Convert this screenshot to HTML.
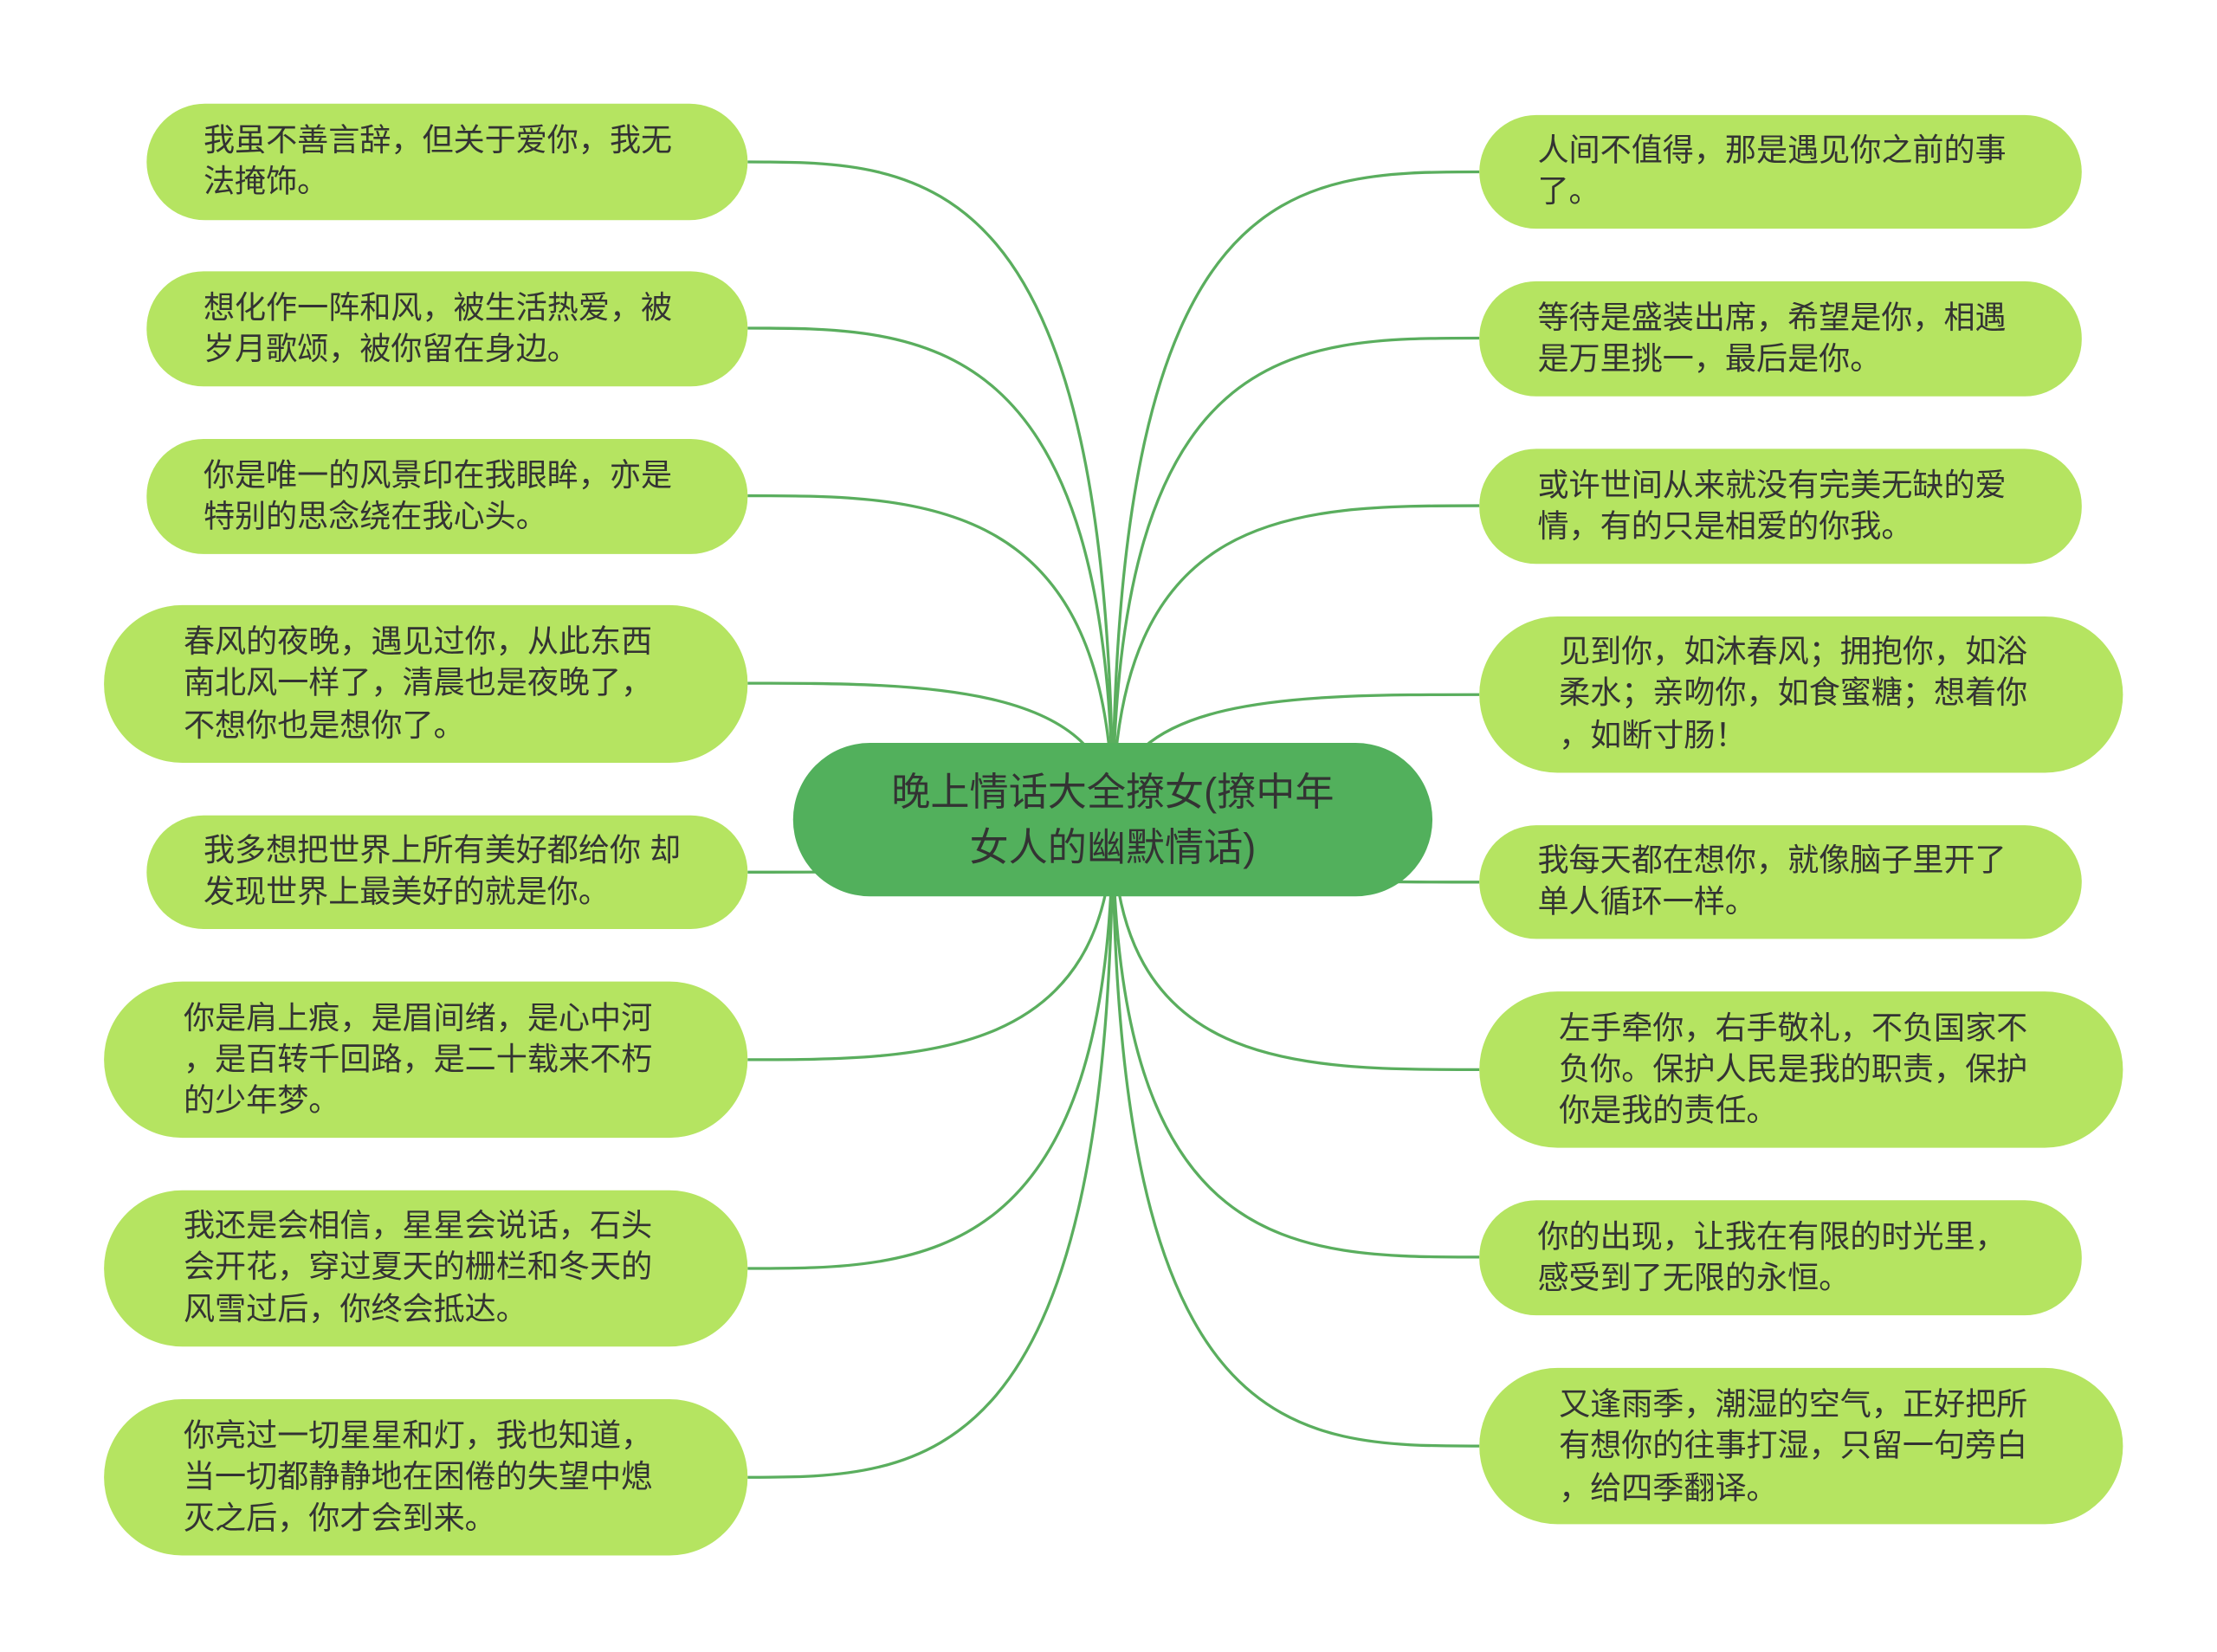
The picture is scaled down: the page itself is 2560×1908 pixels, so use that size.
<!DOCTYPE html>
<html><head><meta charset="utf-8"><style>
html,body{margin:0;padding:0;background:#fff;}
svg{display:block;}
text{font-family:"Liberation Sans","Noto Sans CJK SC",sans-serif;fill:#333;}
</style></head><body>
<svg width="2560" height="1908" viewBox="0 0 1560 1163" xmlns="http://www.w3.org/2000/svg">
<g fill="none" stroke="#5aae5e" stroke-width="2">
<path d="M783 577 C783 114,650 114,526 114"/>
<path d="M783 577 C783 231,650 231,526 231"/>
<path d="M783 577 C783 349,650 349,526 349"/>
<path d="M783 577 C783 481,650 481,526 481"/>
<path d="M783 577 C783 614,650 614,526 614"/>
<path d="M783 577 C783 746,650 746,526 746"/>
<path d="M783 577 C783 893,650 893,526 893"/>
<path d="M783 577 C783 1040,650 1040,526 1040"/>
<path d="M783 577 C783 121,910 121,1041 121"/>
<path d="M783 577 C783 238,910 238,1041 238"/>
<path d="M783 577 C783 356,910 356,1041 356"/>
<path d="M783 577 C783 489,910 489,1041 489"/>
<path d="M783 577 C783 621,910 621,1041 621"/>
<path d="M783 577 C783 753,910 753,1041 753"/>
<path d="M783 577 C783 885,910 885,1041 885"/>
<path d="M783 577 C783 1018,910 1018,1041 1018"/>
</g>
<g fill="#b5e461">
<rect x="103" y="73" width="423" height="82" rx="41"/>
<rect x="103" y="191" width="423" height="81" rx="40"/>
<rect x="103" y="309" width="423" height="81" rx="40"/>
<rect x="73" y="426" width="453" height="111" rx="55"/>
<rect x="103" y="574" width="423" height="80" rx="40"/>
<rect x="73" y="691" width="453" height="110" rx="55"/>
<rect x="73" y="838" width="453" height="110" rx="55"/>
<rect x="73" y="985" width="453" height="110" rx="55"/>
<rect x="1041" y="81" width="424" height="80" rx="40"/>
<rect x="1041" y="198" width="424" height="81" rx="40"/>
<rect x="1041" y="316" width="424" height="81" rx="40"/>
<rect x="1041" y="434" width="453" height="110" rx="55"/>
<rect x="1041" y="581" width="424" height="80" rx="40"/>
<rect x="1041" y="698" width="453" height="110" rx="55"/>
<rect x="1041" y="845" width="424" height="81" rx="40"/>
<rect x="1041" y="963" width="453" height="110" rx="55"/>
</g>
<rect x="558" y="523" width="450" height="108" rx="54" fill="#52b05c"/>
<text x="783" y="567" font-size="27.5" text-anchor="middle">晚上情话大全撩女(撩中年</text>
<text x="783" y="606" font-size="27.5" text-anchor="middle">女人的幽默情话)</text>
<g font-size="22">
<text x="143" y="106">我虽不善言辞，但关于爱你，我无</text>
<text x="143" y="135">法掩饰。</text>
<text x="143" y="224">想化作一阵和风，被生活热爱，被</text>
<text x="143" y="253">岁月歌颂，被你留在身边。</text>
<text x="143" y="342">你是唯一的风景印在我眼眸，亦是</text>
<text x="143" y="371">特别的思念绕在我心头。</text>
<text x="129" y="459">春风的夜晚，遇见过你，从此东西</text>
<text x="129" y="488">南北风一样了，清晨也是夜晚了，</text>
<text x="129" y="518">不想你也是想你了。</text>
<text x="143" y="606">我多想把世界上所有美好都给你 却</text>
<text x="143" y="635">发现世界上最美好的就是你。</text>
<text x="129" y="724">你是肩上痕，是眉间绪，是心中河</text>
<text x="129" y="753">，是百转千回路，是二十载来不朽</text>
<text x="129" y="782">的少年梦。</text>
<text x="129" y="870">我还是会相信，星星会说话，石头</text>
<text x="129" y="899">会开花，穿过夏天的栅栏和冬天的</text>
<text x="129" y="929">风雪过后，你终会抵达。</text>
<text x="129" y="1018">你亮过一切星星和灯，我也知道，</text>
<text x="129" y="1047">当一切都静静地在困倦的失望中熄</text>
<text x="129" y="1076">灭之后，你才会到来。</text>
<text x="1082" y="113">人间不值得，那是遇见你之前的事</text>
<text x="1082" y="142">了。</text>
<text x="1082" y="231">等待是盛装出席，希望是你，相遇</text>
<text x="1082" y="260">是万里挑一，最后是你。</text>
<text x="1082" y="349">或许世间从来就没有完美无缺的爱</text>
<text x="1082" y="378">情，有的只是相爱的你我。</text>
<text x="1097" y="466">见到你，如沐春风；拥抱你，如浴</text>
<text x="1097" y="495">柔水；亲吻你，如食蜜糖；想着你</text>
<text x="1097" y="525">，如断寸肠！</text>
<text x="1082" y="613">我每天都在想你，就像脑子里开了</text>
<text x="1082" y="642">单人循环一样。</text>
<text x="1097" y="731">左手牵你，右手敬礼，不负国家不</text>
<text x="1097" y="760">负你。保护人民是我的职责，保护</text>
<text x="1097" y="789">你是我的责任。</text>
<text x="1082" y="878">你的出现，让我在有限的时光里，</text>
<text x="1082" y="907">感受到了无限的永恒。</text>
<text x="1097" y="996">又逢雨季，潮湿的空气，正好把所</text>
<text x="1097" y="1025">有想你的往事打湿，只留一句旁白</text>
<text x="1097" y="1055">，给四季翻译。</text>
</g>
</svg>
</body></html>
